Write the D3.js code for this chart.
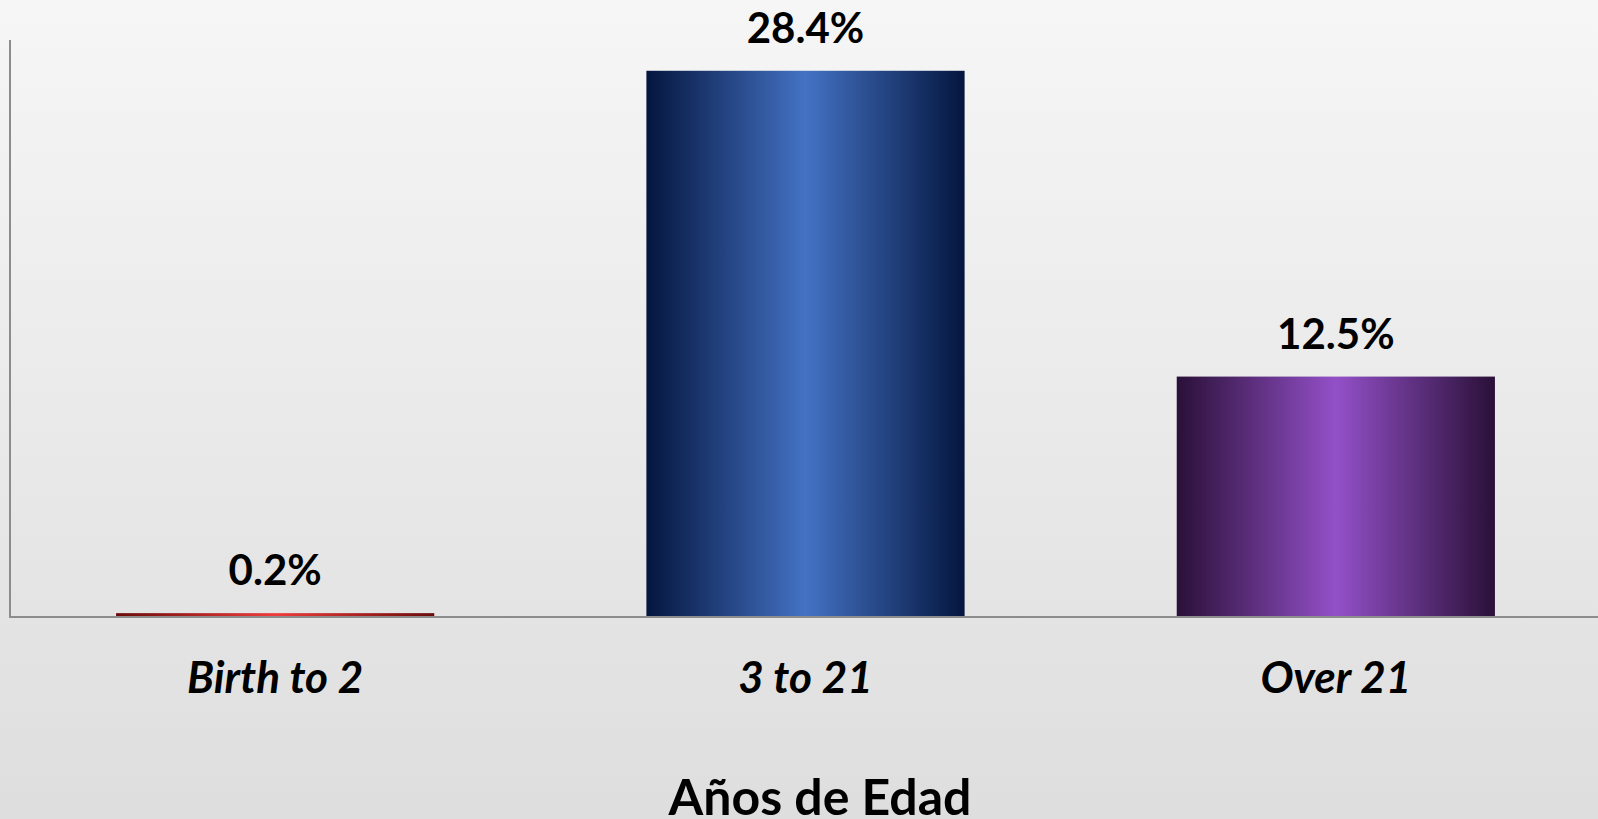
<!DOCTYPE html>
<html>
<head>
<meta charset="utf-8">
<script src="https://cdn.jsdelivr.net/npm/d3@7"></script>
<style>
  html, body { margin: 0; padding: 0; overflow: hidden; }
  svg { display: block; }
</style>
</head>
<body>
<svg id="chart" width="1598" height="819"></svg>
<script>
// chart data
var categories = ['Birth to 2', '3 to 21', 'Over 21'];
var values = [0.2, 28.4, 12.5];
var barColors = [
  ['#6b0a0a', '#f03c3c'],
  ['#04163f', '#4472c4'],
  ['#2a1038', '#9350c8']
];
var axisTitle = 'Años de Edad';

var width = 1598, height = 819;
var plotLeft = 10, plotRight = 1601, plotTop = 40, plotBottom = 617;

var svg = d3.select('#chart');
var defs = svg.append('defs');

// background
var bg = defs.append('linearGradient').attr('id', 'bg')
  .attr('x1', 0).attr('y1', 0).attr('x2', 0).attr('y2', 1);
bg.append('stop').attr('offset', '0%').attr('stop-color', '#f6f6f6');
bg.append('stop').attr('offset', '100%').attr('stop-color', '#dedede');
svg.append('rect').attr('width', width).attr('height', height).attr('fill', 'url(#bg)');

// bar gradients: dark edges, light middle
barColors.forEach(function(c, i) {
  var g = defs.append('linearGradient').attr('id', 'bar' + i)
    .attr('x1', 0).attr('y1', 0).attr('x2', 1).attr('y2', 0);
  g.append('stop').attr('offset', '0%').attr('stop-color', c[0]);
  g.append('stop').attr('offset', '50%').attr('stop-color', c[1]);
  g.append('stop').attr('offset', '100%').attr('stop-color', c[0]);
});

var x = d3.scaleBand().domain(categories).range([plotLeft, plotRight])
  .paddingInner(0.4).paddingOuter(0.2);
var y = d3.scaleLinear().domain([0, 30]).range([plotBottom, plotTop]);

// bars
svg.selectAll('.bar').data(values).enter().append('rect')
  .attr('class', 'bar')
  .attr('x', function(d, i) { return x(categories[i]); })
  .attr('y', function(d) { return y(d); })
  .attr('width', x.bandwidth())
  .attr('height', function(d) { return plotBottom - y(d); })
  .attr('fill', function(d, i) { return 'url(#bar' + i + ')'; });

// axes lines
svg.append('line').attr('x1', plotLeft).attr('x2', plotLeft).attr('y1', plotTop).attr('y2', plotBottom)
  .attr('stroke', '#8c8c8c').attr('stroke-width', 2);
svg.append('line').attr('x1', plotLeft - 1).attr('x2', width).attr('y1', plotBottom).attr('y2', plotBottom)
  .attr('stroke', '#8c8c8c').attr('stroke-width', 2);

// value labels
svg.selectAll('.val').data(values).enter().append('text')
  .attr('x', function(d, i) { return x(categories[i]) + x.bandwidth() / 2; })
  .attr('y', function(d) { return y(d) - 28; })
  .attr('text-anchor', 'middle')
  .style('font-family', 'Lato, "Open Sans", sans-serif')
  .style('font-weight', 'bold')
  .style('font-size', '42px')
  .attr('fill', '#000')
  .text(function(d) { return d.toFixed(1) + '%'; });

// category labels
svg.selectAll('.cat').data(categories).enter().append('text')
  .attr('x', function(d) { return x(d) + x.bandwidth() / 2; })
  .attr('y', 693)
  .attr('text-anchor', 'middle')
  .style('font-family', 'Lato, "Open Sans", sans-serif')
  .style('font-weight', 'bold')
  .style('font-style', 'italic')
  .style('font-size', '44px')
  .attr('fill', '#000')
  .text(function(d) { return d; });

// axis title
svg.append('text')
  .attr('x', 820).attr('y', 815)
  .attr('text-anchor', 'middle')
  .style('font-family', 'Lato, "Open Sans", sans-serif')
  .style('font-weight', 'bold')
  .style('font-size', '50px')
  .attr('fill', '#000')
  .text(axisTitle);
</script>
</body>
</html>
